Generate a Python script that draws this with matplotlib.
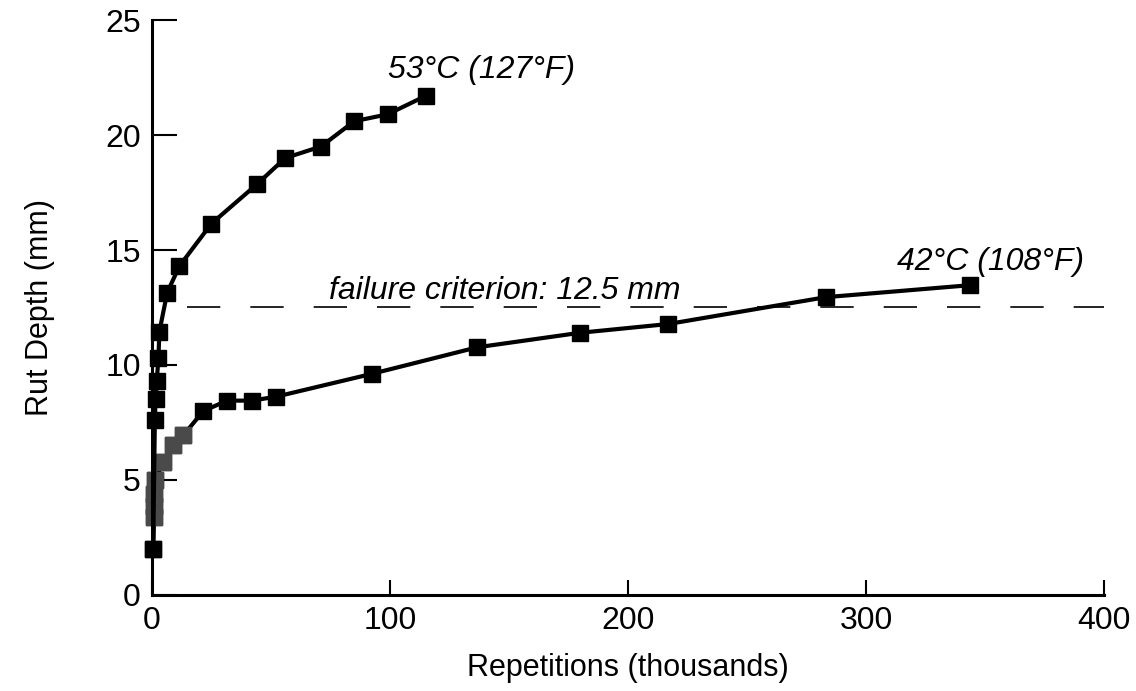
import numpy as np
import matplotlib
matplotlib.use('Agg')
import matplotlib.pyplot as plt

plt.rcParams['font.family'] = ['Liberation Sans', 'DejaVu Sans']

# ── 데이터 ─────────────────────────────────────────
hot_x = [0.5, 1.2, 1.5, 2.0, 2.7, 3.1, 6.4, 11.5, 25, 44, 56, 71, 85, 99, 115]
hot_y = [2.0, 7.6, 8.5, 9.3, 10.3, 11.45, 13.15, 14.3, 16.15, 17.85, 19.0,
         19.5, 20.6, 20.9, 21.7]

warm_x = [0.5, 0.8, 0.8, 0.9, 1.3, 4.8, 9.0, 13.2, 21.6, 31.6, 41.9, 52.1,
          92.6, 136.7, 179.8, 216.8, 283.2, 343.7]
warm_y = [2.0, 3.4, 3.85, 4.4, 5.0, 5.8, 6.5, 6.95, 8.0, 8.45, 8.45, 8.62,
          9.62, 10.77, 11.4, 11.78, 12.95, 13.47]
warm_gray = [1, 2, 3, 4, 5, 6, 7]   # 회색 점으로 찍힌 점 인덱스

failure = 12.5
x_ticks = [0, 100, 200, 300, 400]
y_ticks = [0, 5, 10, 15, 20, 25]

# ── 그림 ──────────────────────────────────────────────────
fig = plt.figure(figsize=(11.36, 6.91), dpi=100)
ax = fig.add_axes([0.1338, 0.139, 0.838, 0.832])

# 파괴 기준선
ax.plot([14.7, 400], [failure, failure], color='black', lw=1.2,
        dashes=(20, 18), clip_on=False, zorder=1)
ax.text(74.5, 12.87, 'failure criterion: 12.5 mm', fontsize=23,
        style='italic', ha='left', va='baseline')

# 53°C
ax.plot(hot_x, hot_y, color='black', lw=3, marker='s', markersize=12,
        clip_on=False, zorder=3)
ax.text(99.2, 22.5, '53°C (127°F)', fontsize=23, style='italic',
        ha='left', va='baseline')

# 42°C
ax.plot(warm_x, warm_y, color='black', lw=3, marker='s', markersize=12,
        clip_on=False, zorder=2)
gx = [warm_x[i] for i in warm_gray]
gy = [warm_y[i] for i in warm_gray]
ax.plot(gx, gy, ls='none', marker='s', markersize=12, color='#4a4a4a',
        clip_on=False, zorder=2.5)
ax.text(313, 14.13, '42°C (108°F)', fontsize=23, style='italic',
        ha='left', va='baseline')

ax.set_xlim(0, 400)
ax.set_ylim(0, 25)
ax.set_xticks(x_ticks)
ax.set_yticks(y_ticks)
ax.spines['top'].set_visible(False)
ax.spines['right'].set_visible(False)
for s in ['left', 'bottom']:
    ax.spines[s].set_linewidth(2.2)
ax.tick_params(axis='y', direction='in', length=18, width=1.5,
               labelsize=23, pad=8)
ax.tick_params(axis='x', direction='in', length=11, width=1.5,
               labelsize=23, pad=8)

ax.set_xlabel('Repetitions (thousands)', fontsize=22, labelpad=12)
ax.set_ylabel('Rut Depth (mm)', fontsize=22, labelpad=36)

plt.savefig('out.png', dpi=100)
plt.close()
